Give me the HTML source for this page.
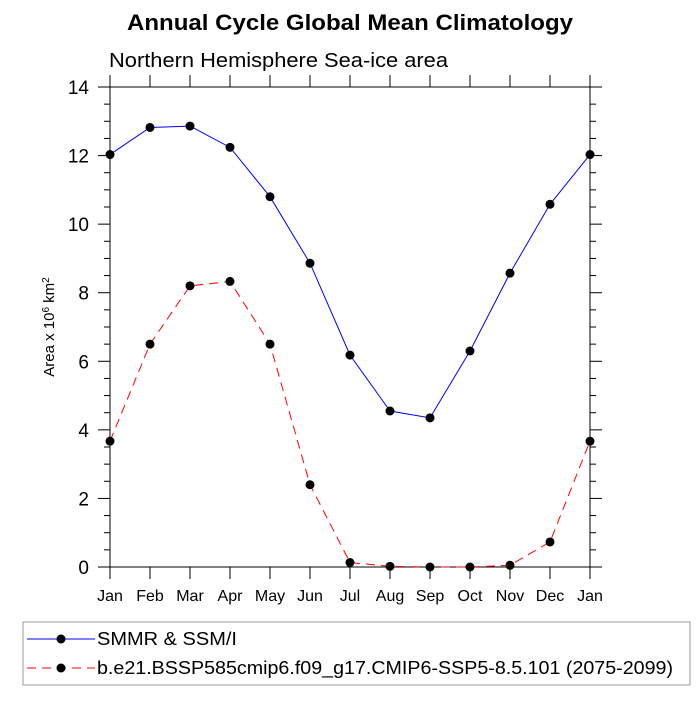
<!DOCTYPE html>
<html><head><meta charset="utf-8"><style>
body{margin:0;background:#fff}
svg text{font-family:"Liberation Sans",sans-serif;fill:#000}
</style></head><body>
<svg width="700" height="700" viewBox="0 0 700 700">
<text x="350" y="30" text-anchor="middle" font-size="22" font-weight="bold" textLength="446" lengthAdjust="spacingAndGlyphs">Annual Cycle Global Mean Climatology</text>
<text x="109" y="67" font-size="20" textLength="339" lengthAdjust="spacingAndGlyphs">Northern Hemisphere Sea-ice area</text>
<g id="axes"></g>
<g id="series"></g>
<text transform="translate(54,327) rotate(-90)" text-anchor="middle" font-size="15">Area x 10<tspan dy="-5" font-size="10">6</tspan><tspan dy="5"> km</tspan><tspan dy="-5" font-size="10">2</tspan></text>
<g>
<rect x="23" y="622" width="667" height="63" fill="none" stroke="#999" stroke-width="1"/>
<line x1="27" y1="639" x2="95" y2="639" stroke="#00f" stroke-width="1"/>
<circle cx="61" cy="639" r="4.5" fill="#000"/>
<text x="97" y="645" font-size="18" textLength="140" lengthAdjust="spacingAndGlyphs">SMMR &amp; SSM/I</text>
<line x1="27" y1="668" x2="95" y2="668" stroke="#f00" stroke-width="1" stroke-dasharray="9,6"/>
<circle cx="61" cy="668" r="4.5" fill="#000"/>
<text x="97" y="674" font-size="18" textLength="576" lengthAdjust="spacingAndGlyphs">b.e21.BSSP585cmip6.f09_g17.CMIP6-SSP5-8.5.101 (2075-2099)</text>
</g>
</svg>
<script>
const months=["Jan","Feb","Mar","Apr","May","Jun","Jul","Aug","Sep","Oct","Nov","Dec","Jan"];
const obsValues=[12.03,12.82,12.86,12.24,10.80,8.86,6.18,4.55,4.35,6.30,8.57,10.58,12.03];
const modelValues=[3.67,6.50,8.20,8.33,6.50,2.40,0.13,0.02,0.00,0.00,0.05,0.73,3.67];
const yTicks=[0,2,4,6,8,10,12,14];
const L=110,R=590,T=87,B=567,yMax=14;
const xs=i=>L+(R-L)*i/(months.length-1);
const ys=v=>B-(B-T)*v/yMax;
const NS="http://www.w3.org/2000/svg";
function mk(t,a,p){const e=document.createElementNS(NS,t);for(const k in a)e.setAttribute(k,a[k]);p.appendChild(e);return e;}
const ax=document.getElementById('axes');
const frame=mk('rect',{x:L,y:T,width:R-L,height:B-T,fill:'none',stroke:'#000','stroke-width':1},ax);


months.forEach((m,i)=>{const x=xs(i);
mk('line',{x1:x,y1:B,x2:x,y2:B+12,stroke:'#000'},ax);
mk('line',{x1:x,y1:T,x2:x,y2:T-12,stroke:'#000'},ax);
const t=mk('text',{x:x,y:B+34,'text-anchor':'middle','font-size':16},ax);t.textContent=m;


});
for(let v=0;v<=yMax+1e-9;v+=0.5){const y=ys(v);const major=Math.abs(v%2)<1e-9;const len=major?12:6;
mk('line',{x1:L,y1:y,x2:L-len,y2:y,stroke:'#000'},ax);
mk('line',{x1:R,y1:y,x2:R+len,y2:y,stroke:'#000'},ax);}
yTicks.forEach(v=>{const t=mk('text',{x:L-21,y:ys(v)+7,'text-anchor':'end','font-size':19},ax);t.textContent=v;


});
const sg=document.getElementById('series');
function series(vals,color,dash,name){
const pts=vals.map((v,i)=>xs(i)+','+ys(v)).join(' ');
const pl=mk('polyline',{points:pts,fill:'none',stroke:color,'stroke-width':1},sg);
if(dash)pl.setAttribute('stroke-dasharray',dash);


vals.forEach((v,i)=>{const c=mk('circle',{cx:xs(i),cy:ys(v),r:4.5,fill:'#000'},sg);


});}
series(obsValues,'#00f',null,'smmr');
series(modelValues,'#f00','9,6','model');
</script>
</body></html>
